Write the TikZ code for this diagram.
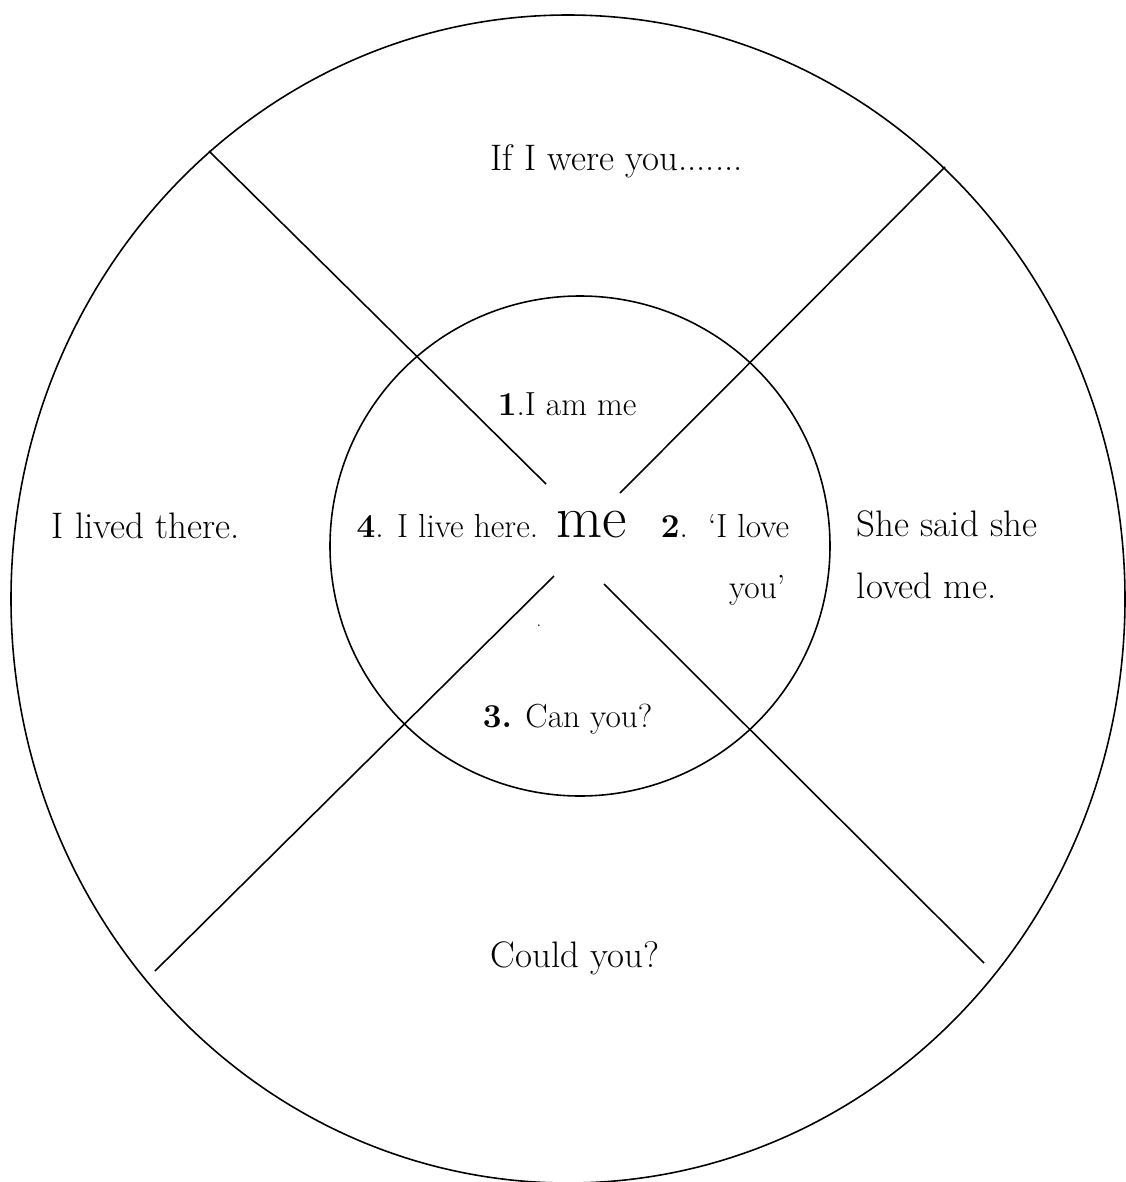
\documentclass[tikz,border=0pt]{standalone}
\usepackage{amsmath,amssymb}
\usepackage{tikz}

\tikzset{
  txt/.style={anchor=base west,inner sep=0pt,font=\fontsize{21}{25}\selectfont},
  intxt/.style={txt,font=\fontsize{19}{23}\selectfont},
  spoke/.style={line width=0.9pt}
}

\begin{document}
\begin{tikzpicture}[x=0.2mm,y=-0.2mm,line width=0.9pt]
 \useasboundingbox (0,0) rectangle (1126,1182);
 % outer and inner rings
 \draw (568,599) ellipse [x radius=557,y radius=584];
 \draw (580,546) circle [radius=250];
 % spokes
 \coordinate (tlo) at (209,151); \coordinate (tli) at (546,484);
 \coordinate (tro) at (945,167); \coordinate (tri) at (620,493);
 \coordinate (bli) at (554,576); \coordinate (blo) at (155,971);
 \coordinate (bri) at (604,584); \coordinate (bro) at (984,963);
 \draw[spoke] (tlo) -- (tli);
 \draw[spoke] (tro) -- (tri);
 \draw[spoke] (bli) -- (blo);
 \draw[spoke] (bri) -- (bro);
 % outer texts
 \node[txt] (top) at (490,170) {If I were you.......};
 \node[txt] (left) at (51,538) {I lived there.};
 \node[txt] (right1) at (856,536) {She said she};
 \node[txt] (right2) at (856,598) {loved me.};
 \node[txt] (bottom) at (490,967) {Could you?};
 % inner texts
 \node[intxt] (one) at (497,415) {\textbf{1}.I am me};
 \node[intxt,anchor=base east] (four) at (539,537) {\textbf{4}. I live here.};
 \node[txt,font=\fontsize{34}{40}\selectfont] (me) at (556,537) {me};
 \node[intxt] (two) at (660,537) {\textbf{2}.\ \ `I love};
 \node[intxt,anchor=base east] (you) at (786,598) {you'};
 \node[intxt] (three) at (482,727) {\textbf{3.} Can you?};
 \node[txt,font=\fontsize{8}{9}\selectfont] (dot) at (536,626) {.};
\end{tikzpicture}
\end{document}
